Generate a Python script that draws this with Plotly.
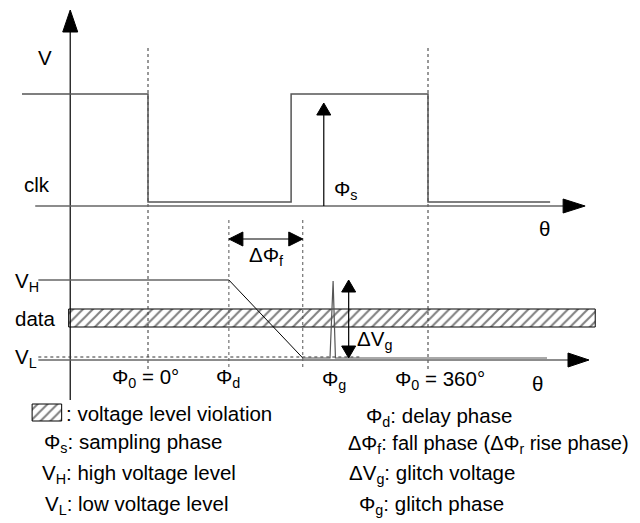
import plotly.graph_objects as go

# ---- data (x in phase degrees, y in vertical diagram units, up positive) ----
clk_x = [-162, 0, 0, 184, 184, 360, 360, 517]
clk_y = [429, 429, 321, 321, 429, 429, 321, 321]
clk_axis_y = 317
clk_axis_x = [-145, 534]
v_axis_x = -100
v_axis_y = [123, 491]

phi0 = [0, 360]          # Φ0 = 0°, Φ0 = 360°
phi_d = 104              # delay phase
phi_f_end = 199          # end of fall (Φd + ΔΦf)
phi_s = 226              # sampling phase
phi_g = 238              # glitch phase
dvg_x = 258              # ΔVg arrow position

v_high = 243
v_low = 165
glitch_peak = 242
data_x = [-141, phi_d]
data_y = [v_high, v_high]
fall_x = [phi_d, phi_f_end]
fall_y = [v_high, v_low]
low_x = [phi_f_end, 234, phi_g, 241, 513]
low_y = [v_low, v_low, glitch_peak, v_low, v_low]
vl_dash_x = [-141, 275]
low_axis_y = 163
low_axis_x = [-141, 540]

band_x = [-102, 575]
band_y = [196, 214]
leg_box_x = [-149, -111]
leg_box_y = [102, 119]

# page body has an 8px margin: shift the scales so marks land where intended
XR = [-180.0, 642.86]
YR = [-8, 515]
PX = (XR[1] - XR[0]) / 640.0   # degrees per pixel

fig = go.Figure()

def line(x, y, color="#555", width=1.5, dash=None):
    fig.add_trace(go.Scatter(x=x, y=y, mode="lines", hoverinfo="skip",
                             line=dict(color=color, width=width, dash=dash)))

def tri(tx, ty, direction, length=22, half=7.5):
    if direction == "up":
        xs = [tx, tx - half * PX, tx + half * PX, tx]
        ys = [ty, ty - length, ty - length, ty]
    elif direction == "down":
        xs = [tx, tx - half * PX, tx + half * PX, tx]
        ys = [ty, ty + length, ty + length, ty]
    elif direction == "right":
        xs = [tx, tx - length * PX, tx - length * PX, tx]
        ys = [ty, ty + half, ty - half, ty]
    else:
        xs = [tx, tx + length * PX, tx + length * PX, tx]
        ys = [ty, ty + half, ty - half, ty]
    fig.add_trace(go.Scatter(x=xs, y=ys, mode="lines", fill="toself",
                             fillcolor="black", line=dict(color="black", width=1),
                             hoverinfo="skip"))

def box(xr, yr):
    fig.add_trace(go.Scatter(
        x=[xr[0], xr[1], xr[1], xr[0], xr[0]],
        y=[yr[0], yr[0], yr[1], yr[1], yr[0]],
        mode="lines", fill="toself", hoverinfo="skip",
        fillcolor="white",
        fillpattern=dict(shape="/", size=7, solidity=0.28,
                         fgcolor="black", bgcolor="white"),
        line=dict(color="black", width=1)))

# band (drawn first so dotted lines show through)
box(band_x, band_y)

# dotted verticals
for p in phi0:
    line([p, p], [475, 151], color="#333", width=1, dash="dot")
for p in [phi_d, phi_f_end]:
    line([p, p], [303, 153], color="#555", width=1, dash="dot")

# V axis
line([v_axis_x, v_axis_x], v_axis_y, color="black", width=1.2)
tri(v_axis_x, 513, "up", length=22, half=7.5)

# clock
line(clk_x, clk_y, color="#555", width=1.5)
line(clk_axis_x, [clk_axis_y, clk_axis_y], color="#666", width=1.5)
tri(562, clk_axis_y, "right", length=22, half=7)

# sampling arrow
line([phi_s, phi_s], [clk_axis_y, 410], color="black", width=1.2)
tri(phi_s, 420, "up", length=12, half=7)

# ΔΦf arrow
line([phi_d + 10, phi_f_end - 10], [284, 284], color="black", width=1.2)
tri(phi_d, 284, "left", length=14, half=7)
tri(phi_f_end, 284, "right", length=14, half=7)

# data waveform
line(data_x, data_y, color="#666", width=1.5)
line(fall_x, fall_y, color="black", width=1)
line(vl_dash_x, [v_low + 1, v_low + 1], color="#333", width=1, dash="dot")
line(low_axis_x, [low_axis_y, low_axis_y], color="#666", width=1.5)
line(low_x, low_y, color="#555", width=1.2)
tri(567, low_axis_y, "right", length=21, half=7)

# ΔVg arrow
line([dvg_x, dvg_x], [235, 172], color="black", width=1.2)
tri(dvg_x, 243, "up", length=12, half=7)
tri(dvg_x, v_low, "down", length=12, half=7)

# legend box
box(leg_box_x, leg_box_y)

labels = [
    ("V", -132, 466, "center", 20.5),
    ("clk", -143, 339, "center", 20.5),
    ("Φ<sub>s</sub>", 236, 333, "left", 20.5),
    ("θ", 510, 295, "center", 20.5),
    ("ΔΦ<sub>f</sub>", 152, 267, "center", 20.5),
    ("V<sub>H</sub>", -174, 241, "left", 20.5),
    ("data", -174, 205, "left", 20.5),
    ("V<sub>L</sub>", -174, 165, "left", 20.5),
    ("ΔV<sub>g</sub>", 266, 183, "left", 20.5),
    ("Φ<sub>0</sub> = 0°", -3, 145, "center", 20.5),
    ("Φ<sub>d</sub>", 103, 145, "center", 20.5),
    ("Φ<sub>g</sub>", 239, 143, "center", 20.5),
    ("Φ<sub>0</sub> = 360°", 375, 143, "center", 20.5),
    ("θ", 501, 140, "center", 20.5),
    (": voltage level violation", -108, 110, "left", 20.5),
    ("Φ<sub>s</sub>: sampling phase", -136, 80, "left", 20.5),
    ("V<sub>H</sub>: high voltage level", -139, 49, "left", 20.5),
    ("V<sub>L</sub>: low voltage level", -135, 18, "left", 20.5),
    ("Φ<sub>d</sub>: delay phase", 278, 106, "left", 20.5),
    ("ΔΦ<sub>f</sub>: fall phase (ΔΦ<sub>r</sub> rise phase)", 255, 79, "left", 20),
    ("ΔV<sub>g</sub>: glitch voltage", 256, 49, "left", 20.5),
    ("Φ<sub>g</sub>: glitch phase", 269, 18, "left", 20.5),
]
for t, x, y, a, s in labels:
    fig.add_annotation(x=x, y=y, text=t, showarrow=False, xanchor=a,
                       yanchor="middle",
                       font=dict(family="Liberation Sans, Arial", size=s,
                                 color="black"))

fig.update_layout(
    width=640, height=523, showlegend=False,
    margin=dict(l=0, r=0, t=0, b=0),
    paper_bgcolor="white", plot_bgcolor="white",
    xaxis=dict(range=XR, visible=False, fixedrange=True),
    yaxis=dict(range=YR, visible=False, fixedrange=True),
)
fig.write_html("out.html")
